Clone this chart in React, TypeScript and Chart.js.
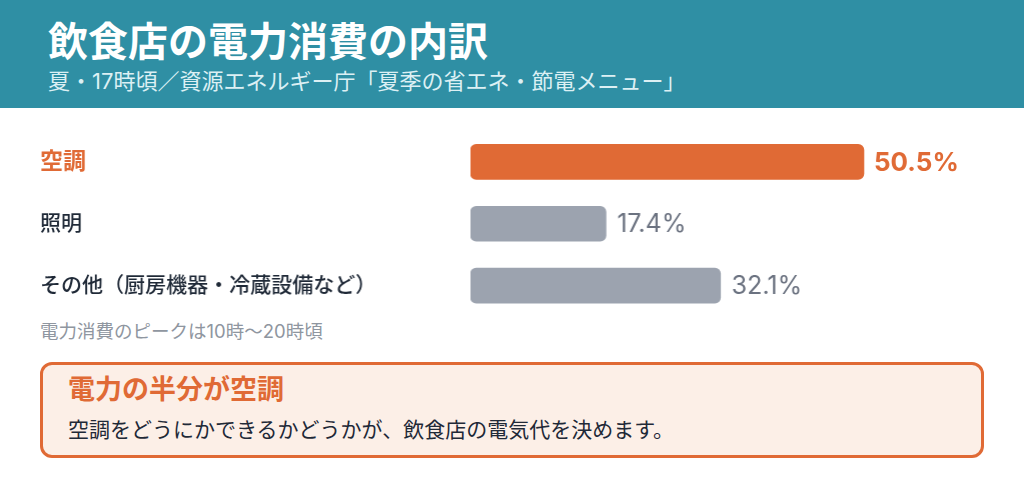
import React, { useEffect, useRef } from "react";
import { Chart, registerables } from "chart.js";

Chart.register(...registerables);

const categories = ["空調", "照明", "その他（厨房機器・冷蔵設備など）"];
const shares = [50.5, 17.4, 32.1];
const valueLabels = ["50.5%", "17.4%", "32.1%"];
const highlightIndex = 0;

const FONT = 'Inter, "Noto Sans CJK JP", "Noto Sans", sans-serif';
const ORANGE = "#e06a35";
const GRAY_BAR = "#9ca3af";
const GRAY_TEXT = "#6b7280";
const DARK = "#1f2937";
const TEAL = "#2f8fa4";

const valueLabelPlugin = {
  id: "valueLabels",
  afterDatasetsDraw(chart: any) {
    const ctx = chart.ctx;
    const meta = chart.getDatasetMeta(0);
    ctx.save();
    ctx.textBaseline = "middle";
    ctx.textAlign = "left";
    meta.data.forEach((bar: any, i: number) => {
      const hi = i === highlightIndex;
      ctx.font = `${hi ? "bold " : ""}${hi ? 26 : 25}px ${FONT}`;
      ctx.fillStyle = hi ? ORANGE : GRAY_TEXT;
      ctx.fillText(valueLabels[i], bar.x + (hi ? 10 : 11), bar.y + 1);
    });
    ctx.restore();
  },
};

export default function App() {
  const canvasRef = useRef<HTMLCanvasElement | null>(null);

  useEffect(() => {
    document.body.style.margin = "0";
    const canvas = canvasRef.current;
    if (!canvas) return;
    const chart = new Chart(canvas, {
      type: "bar",
      data: {
        labels: categories,
        datasets: [
          {
            data: shares,
            backgroundColor: shares.map((_, i) => (i === highlightIndex ? ORANGE : GRAY_BAR)),
            borderRadius: 6,
            borderSkipped: false,
            barThickness: 35,
          },
        ],
      },
      options: {
        indexAxis: "y",
        animation: false,
        responsive: true,
        maintainAspectRatio: false,
        layout: { padding: 0 },
        plugins: {
          legend: { display: false },
          tooltip: { enabled: false },
          title: { display: false },
        },
        scales: {
          x: {
            display: false,
            min: 0,
            max: 65,
          },
          y: {
            grid: { display: false },
            border: { display: false },
            afterFit(scale: any) {
              scale.width = 430;
              scale.paddingTop = 0;
              scale.paddingBottom = 0;
            },
            ticks: {
              crossAlign: "far",
              padding: 0,
              color: (c: any) => (c.index === highlightIndex ? ORANGE : DARK),
              font: (c: any) =>
                c.index === highlightIndex
                  ? { family: FONT, size: 23, weight: "bold" }
                  : { family: FONT, size: 21, weight: "500" },
            },
          },
        },
      },
      plugins: [valueLabelPlugin],
    } as any);
    return () => chart.destroy();
  }, []);

  return (
    <div
      style={{
        position: "relative",
        width: 1024,
        height: 494,
        background: "#ffffff",
        fontFamily: FONT,
        overflow: "hidden",
      }}
    >
      <div
        style={{
          position: "absolute",
          left: 0,
          top: 0,
          width: 1024,
          height: 108,
          background: TEAL,
        }}
      />
      <div
        style={{
          position: "absolute",
          left: 48,
          top: 18,
          fontSize: 40,
          lineHeight: "48px",
          fontWeight: 700,
          color: "#ffffff",
          whiteSpace: "nowrap",
        }}
      >
        飲食店の電力消費の内訳
      </div>
      <div
        style={{
          position: "absolute",
          left: 48,
          top: 66,
          fontSize: 22,
          lineHeight: "30px",
          color: "#dcf0f4",
          whiteSpace: "nowrap",
        }}
      >
        夏・17時頃／資源エネルギー庁「夏季の省エネ・節電メニュー」
      </div>

      <div
        style={{
          position: "absolute",
          left: 40,
          top: 130.5,
          width: 935.8,
          height: 185.5,
        }}
      >
        <canvas ref={canvasRef} />
      </div>

      <div
        style={{
          position: "absolute",
          left: 40,
          top: 319,
          fontSize: 18.5,
          lineHeight: "24px",
          color: "#8f96a0",
          whiteSpace: "nowrap",
        }}
      >
        電力消費のピークは10時～20時頃
      </div>

      <div
        style={{
          position: "absolute",
          left: 40,
          top: 362,
          width: 944,
          height: 96,
          boxSizing: "border-box",
          border: `3px solid ${ORANGE}`,
          borderRadius: 12,
          background: "#fcefe7",
        }}
      />
      <div
        style={{
          position: "absolute",
          left: 68,
          top: 374,
          fontSize: 27,
          lineHeight: "32px",
          fontWeight: 700,
          color: ORANGE,
          whiteSpace: "nowrap",
        }}
      >
        電力の半分が空調
      </div>
      <div
        style={{
          position: "absolute",
          left: 68,
          top: 416,
          fontSize: 21,
          lineHeight: "28px",
          color: DARK,
          whiteSpace: "nowrap",
        }}
      >
        空調をどうにかできるかどうかが、飲食店の電気代を決めます。
      </div>
    </div>
  );
}
